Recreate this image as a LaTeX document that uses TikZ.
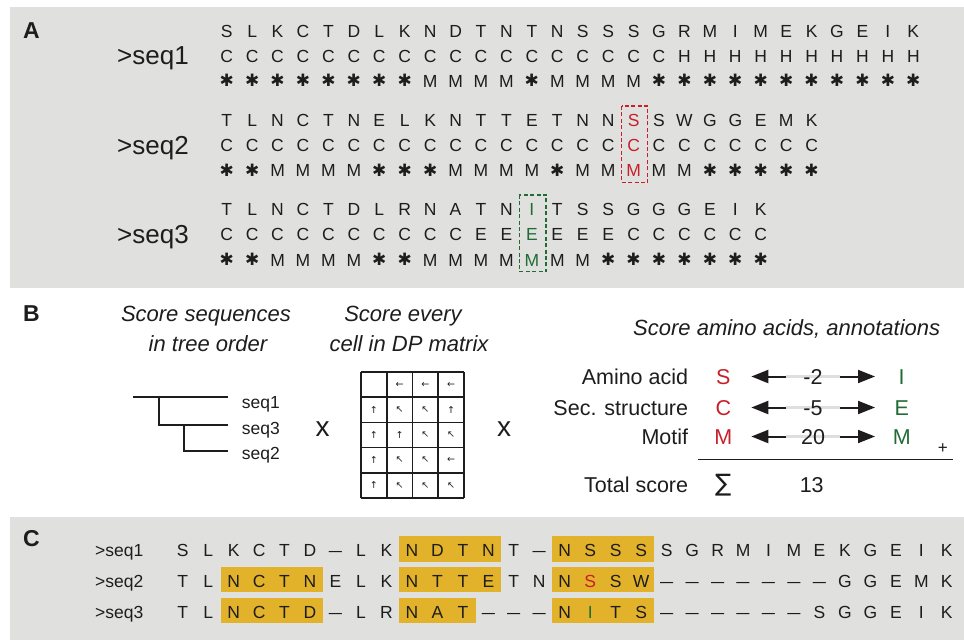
\documentclass[tikz,border=0pt]{standalone}
\usepackage{fontspec}
\setmainfont{Liberation Sans}
\newfontfamily\symfont{DejaVu Sans}
\usetikzlibrary{arrows.meta}

\definecolor{panelgrey}{RGB}{224,225,223}
\definecolor{ink}{RGB}{30,28,29}
\definecolor{hired}{RGB}{200,32,42}
\definecolor{higreen}{RGB}{32,108,52}
\definecolor{motifgold}{RGB}{226,178,42}
\definecolor{scoregrey}{RGB}{222,222,222}

% heavy asterisk: position outside any motif, centred at cap half-height
\newcommand\hast{{\symfont\fontsize{17}{17}\selectfont
  \raisebox{\dimexpr 6.3pt-0.5\height+0.5\depth\relax}{✱}}}
\newcommand\rd[1]{\textcolor{hired}{#1}}
\newcommand\gn[1]{\textcolor{higreen}{#1}}
% gap symbol of the final alignment
\newcommand\gapsym{\scalebox{1.35}[1]{–}}

\tikzset{
  panel/.style={fill=panelgrey, draw=none},
  panelletter/.style={font=\fontsize{23}{23}\selectfont\bfseries, text=ink, inner sep=0pt, anchor=base},
  res/.style={font=\fontsize{17.5}{17.5}\selectfont, text=ink, inner sep=0pt, anchor=base},
  bigseq/.style={font=\fontsize{26}{26}\selectfont, text=ink, inner sep=0pt, anchor=base west},
  smallseq/.style={font=\fontsize{17.5}{17.5}\selectfont, text=ink, inner sep=0pt, anchor=base west},
  heading/.style={font=\fontsize{22}{22}\selectfont\itshape, text=ink, inner sep=0pt, anchor=base},
  scorelabel/.style={font=\fontsize{21.5}{21.5}\selectfont, text=ink, inner sep=0pt, anchor=base east},
  scoreval/.style={font=\fontsize{21.5}{21.5}\selectfont, text=ink, inner sep=0pt, anchor=base},
  times/.style={font=\fontsize{28}{28}\selectfont, text=ink, inner sep=0pt, anchor=base},
  treeline/.style={draw=ink, line width=1.8pt},
  gridline/.style={draw=ink, line width=1.6pt},
  cellarrow/.style={font=\symfont\fontsize{9.5}{9.5}\selectfont, text=ink, inner sep=0pt},
  pickbox/.style={dash pattern=on 4pt off 2.4pt, line width=1.4pt},
  scorearrow/.style={draw=ink, line width=2pt, -{Triangle[length=17pt,width=13pt]}},
  scorebar/.style={draw=scoregrey, line width=3pt},
  goldbox/.style={fill=motifgold, draw=none},
}

% one annotated row of panel A: name prefix, baseline, symbols
\newcommand\rowA[3]{%
  \foreach \c [count=\i] in {#3}
    \node[res] (#1\i) at ({226.7+(\i-1)*25.43},#2) {\c};}
% one row of the final alignment
\newcommand\rowC[3]{%
  \foreach \c [count=\i] in {#3}
    \node[res] (#1\i) at ({182.7+(\i-1)*25.47},#2) {\c};}
% shaded motif run in the final alignment: baseline, first column, last column
\newcommand\goldrun[3]{%
  \fill[goldbox] ({182.7+(#2-1)*25.47-12.73},{#1-20.7}) rectangle ({182.7+(#3-1)*25.47+12.73},{#1+5});}

\begin{document}
\begin{tikzpicture}[x=1pt,y=-1pt]
\useasboundingbox (0,0) rectangle (964,640);

% ---------------- panel A ----------------
\fill[panel] (10,7) rectangle (964,288);
\node[panelletter] (labA) at (31.5,38) {A};

\node[bigseq] (nameA1) at (117,64.7) {>seq1};
\node[bigseq] (nameA2) at (117,154.4) {>seq2};
\node[bigseq] (nameA3) at (117,243.5) {>seq3};

\rowA{sa}{37}{S,L,K,C,T,D,L,K,N,D,T,N,T,N,S,S,S,G,R,M,I,M,E,K,G,E,I,K}
\rowA{sb}{62}{C,C,C,C,C,C,C,C,C,C,C,C,C,C,C,C,C,C,H,H,H,H,H,H,H,H,H,H}
\rowA{sc}{87}{\hast,\hast,\hast,\hast,\hast,\hast,\hast,\hast,M,M,M,M,\hast,M,M,M,M,\hast,\hast,\hast,\hast,\hast,\hast,\hast,\hast,\hast,\hast,\hast}

\rowA{ta}{126.7}{T,L,N,C,T,N,E,L,K,N,T,T,E,T,N,N,\rd{S},S,W,G,G,E,M,K}
\rowA{tb}{151.7}{C,C,C,C,C,C,C,C,C,C,C,C,C,C,C,C,\rd{C},C,C,C,C,C,C,C}
\rowA{tc}{176.7}{\hast,\hast,M,M,M,M,\hast,\hast,\hast,M,M,M,M,\hast,M,M,\rd{M},M,M,\hast,\hast,\hast,\hast,\hast}

\rowA{ua}{215.5}{T,L,N,C,T,D,L,R,N,A,T,N,\gn{I},T,S,S,G,G,G,E,I,K}
\rowA{ub}{240.8}{C,C,C,C,C,C,C,C,C,C,E,E,\gn{E},E,E,E,C,C,C,C,C,C}
\rowA{uc}{266}{\hast,\hast,M,M,M,M,\hast,\hast,M,M,M,M,\gn{M},M,M,\hast,\hast,\hast,\hast,\hast,\hast,\hast}

% the two compared columns
\draw[pickbox, draw=hired] (621.7,106) rectangle (647.7,182.7);
\draw[pickbox, draw=higreen] (519.3,195) rectangle (546,271.7);

% ---------------- panel B ----------------
\node[panelletter] (labB) at (31.5,321.5) {B};

\node[heading] (treeh1) at (206,321) {Score sequences};
\node[heading] (treeh2) at (208,351) {in tree order};
\node[heading] (dph1) at (403,321) {Score every};
\node[heading] (dph2) at (409,351) {cell in DP matrix};
\node[heading] (anh) at (786.7,335) {Score amino acids, annotations};

% guide tree
\coordinate (root) at (133,397.3);
\coordinate (j1) at (159.3,397.3);
\coordinate (j2) at (184.3,425);
\coordinate (leaf1) at (228,397.3);
\coordinate (leaf3) at (228,425);
\coordinate (leaf2) at (228,450.7);
\draw[treeline] (root) -- (leaf1);
\draw[treeline] (j1) |- (leaf3);
\draw[treeline] (j2) |- (leaf2);
\node[smallseq] (tree1) at (241.7,408) {seq1};
\node[smallseq] (tree3) at (241.7,434) {seq3};
\node[smallseq] (tree2) at (241.7,459.5) {seq2};

\node[times] (mul1) at (322.5,436.7) {x};
\node[times] (mul2) at (504,436.7) {x};

% dynamic programming matrix
\foreach \j in {0,...,4}
  \draw[gridline] ({361+\j*25.75},372) -- ({361+\j*25.75},498);
\foreach \i in {0,...,5}
  \draw[gridline] (361,{372+\i*25.2}) -- (464,{372+\i*25.2});
\foreach \row [count=\r] in {{{},←,←,←},{↑,↖,↖,↑},{↑,↑,↖,↖},{↑,↖,↖,←},{↑,↖,↖,↖}}
  \foreach \g [count=\c] in \row
    \node[cellarrow] (cell\r\c) at ({361+(\c-0.5)*25.75},{372+(\r-0.5)*25.2}) {\g};

% pairwise score of the compared column
\node[scorelabel] (lab1) at (688.3,384) {Amino acid};
\node[scorelabel] (lab2) at (688.3,415) {Sec. structure};
\node[scorelabel] (lab3) at (688.3,444) {Motif};
\node[scorelabel] (lab4) at (688.3,492.3) {Total score};

\node[scoreval, text=hired] (left1) at (723.3,384) {S};
\node[scoreval, text=hired] (left2) at (723.3,415) {C};
\node[scoreval, text=hired] (left3) at (723.3,444) {M};
\node[scoreval, text=higreen] (right1) at (901.7,384) {I};
\node[scoreval, text=higreen] (right2) at (901.7,415) {E};
\node[scoreval, text=higreen] (right3) at (901.7,444) {M};

\foreach \k/\v/\yb in {1/-2/384,2/-5/415,3/20/444}{
  \coordinate (val\k) at (813,\yb);
  \draw[scorebar] ([xshift=-27pt,yshift=7.5pt]val\k) -- ([xshift=27pt,yshift=7.5pt]val\k);
  \node[scoreval] (num\k) at (val\k) {\v};
  \draw[scorearrow, shorten <=27pt, shorten >=28pt]
    ([yshift=7.5pt]val\k) -- ([yshift=7.5pt]left\k.base);
  \draw[scorearrow, shorten <=27pt, shorten >=26.7pt]
    ([yshift=7.5pt]val\k) -- ([yshift=7.5pt]right\k.base);
}

\coordinate (sumL) at (698.3,459.3);
\coordinate (sumR) at (953.3,459.3);
\draw[draw=ink, line width=1.5pt] (sumL) -- (sumR);
\node[font=\fontsize{17}{17}\selectfont, text=ink, inner sep=0pt] (plus) at (942.8,449) {+};

\node[scoreval, font=\symfont\fontsize{24}{24}\selectfont] (sigma) at (723.3,491) {∑};
\node[scoreval] (total) at (811.7,492.3) {13};

% ---------------- panel C ----------------
\fill[panel] (10,517) rectangle (964,640);
\node[panelletter] (labC) at (31.5,546.5) {C};

\goldrun{556.7}{10}{13}
\goldrun{556.7}{16}{19}
\goldrun{587.3}{3}{6}
\goldrun{587.3}{10}{13}
\goldrun{587.3}{16}{19}
\goldrun{618.3}{3}{6}
\goldrun{618.3}{10}{12}
\goldrun{618.3}{16}{19}

\node[smallseq] (nameC1) at (95,556.7) {>seq1};
\node[smallseq] (nameC2) at (95,587.3) {>seq2};
\node[smallseq] (nameC3) at (95,618.3) {>seq3};

\rowC{ca}{556.7}{S,L,K,C,T,D,\gapsym,L,K,N,D,T,N,T,\gapsym,N,S,S,S,S,G,R,M,I,M,E,K,G,E,I,K}
\rowC{cb}{587.3}{T,L,N,C,T,N,E,L,K,N,T,T,E,T,N,N,\rd{S},S,W,\gapsym,\gapsym,\gapsym,\gapsym,\gapsym,\gapsym,\gapsym,G,G,E,M,K}
\rowC{cc}{618.3}{T,L,N,C,T,D,\gapsym,L,R,N,A,T,\gapsym,\gapsym,\gapsym,N,\gn{I},T,S,\gapsym,\gapsym,\gapsym,\gapsym,\gapsym,\gapsym,S,G,G,E,I,K}
\end{tikzpicture}
\end{document}
